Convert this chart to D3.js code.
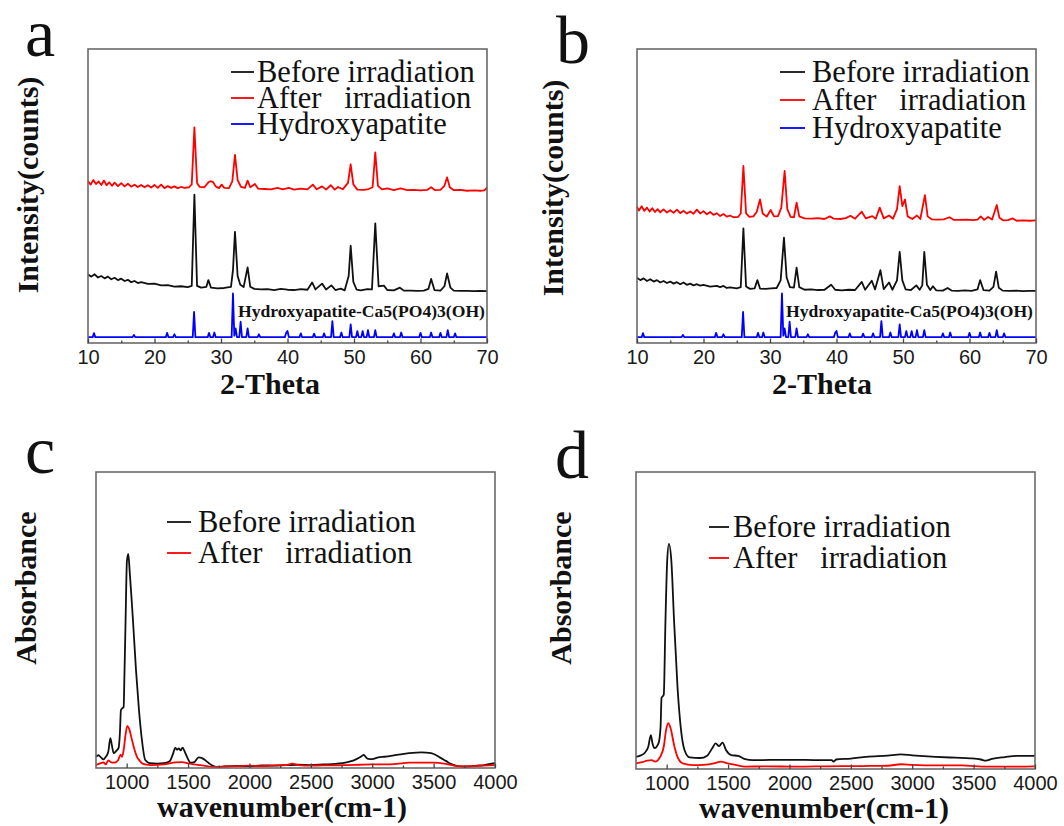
<!DOCTYPE html>
<html>
<head>
<meta charset="utf-8">
<script src="https://cdn.jsdelivr.net/npm/d3@7"></script>
<style>
  body { margin: 0; background: #fff; }
  svg text { white-space: pre; }
</style>
</head>
<body>
<div id="chart"></div>
<script>
var width = 1064;
var height = 826;

// XRD ticks (2-Theta)
var thetaTicks = [10, 20, 30, 40, 50, 60, 70];
var thetaMinor = [15, 25, 35, 45, 55, 65];
// FTIR ticks (wavenumber)
var waveTicks = [1000, 1500, 2000, 2500, 3000, 3500, 4000];
var waveMinor = [1250, 1750, 2250, 2750, 3250, 3750];

var xrdLegend = ["Before irradiation", "After   irradiation", "Hydroxyapatite"];
var ftirLegend = ["Before irradiation", "After   irradiation"];
var seriesColors = ["#111111", "#ff0000", "#0000ff"];
var refLabel = "Hydroxyapatite-Ca5(PO4)3(OH)";

// panel a, offset intensity (arbitrary units)
var xrdBeforeA = [[10,22.5],[10.5,21.8],[11,22.6],[11.5,21.5],[12,22.0],[12.5,21.2],[13,21.8],[13.5,20.9],[14,21.4],[14.5,20.6],[15,21.1],[15.5,20.3],[16,20.7],[16.5,19.9],[17,20.3],[17.5,19.6],[18,19.9],[19,19.3],[20,19.4],[21,18.8],[22,18.9],[23,18.4],[24,18.5],[25,18.2],[25.6,18.6],[26,50],[26.4,18.6],[27,18.0],[27.8,18.3],[28.1,20.6],[28.5,18.0],[29.5,17.8],[30.5,17.9],[31.5,18.3],[31.8,24],[32.1,37.2],[32.5,22],[32.9,19],[33.4,18.2],[34,25],[34.4,18.3],[35,17.6],[36,17.4],[37,17.5],[38,17.2],[39,17.6],[40,17.3],[41,17.2],[42,17.5],[43,17.3],[43.7,19.8],[44.2,17.4],[45.2,19.4],[45.8,17.4],[46.6,18.8],[47.2,17.2],[48,17.7],[48.6,17.1],[49.2,22],[49.5,32.4],[49.9,20],[50.4,17.3],[51,17.1],[52,17.5],[52.7,17.4],[53.2,40.1],[53.7,18.5],[54.5,18.7],[55,17.2],[56,17.1],[56.9,18],[57.5,17.0],[58.5,17.0],[59.5,16.9],[60.5,17.0],[61.2,17.6],[61.6,21],[62.1,17.2],[63,17.0],[63.6,18.5],[64,22.9],[64.5,18],[65,17.0],[66,16.9],[67,16.9],[68,16.8],[69,16.9],[70,16.8]];
var xrdAfterA = [[10,54.6],[10.4,53.4],[10.8,55.0],[11.2,53.6],[11.6,54.5],[12,53.3],[12.4,54.8],[12.8,53.2],[13.2,54.2],[13.6,53.0],[14,54.1],[14.5,52.9],[15,53.9],[15.5,52.8],[16,53.7],[16.5,52.7],[17,53.4],[17.5,52.6],[18,53.3],[18.5,52.5],[19,53.2],[19.5,52.4],[20,53.3],[20.5,52.3],[21,53.4],[21.5,52.2],[22,52.9],[22.5,52.3],[23,52.8],[23.5,52.2],[24,52.6],[24.5,52.3],[25.2,52.5],[25.6,53.5],[26,73.1],[26.4,54],[26.8,52.6],[27.5,52.5],[28.1,54.2],[28.4,54.6],[28.8,54.3],[29.2,52.8],[29.7,52.2],[30.1,53.4],[30.5,52.3],[31.2,52.2],[31.7,54.5],[32.1,63.6],[32.5,55],[33,52.6],[33.6,52.3],[34,54.8],[34.4,52.5],[35.1,53.6],[35.6,52.0],[36.5,51.9],[37.5,51.8],[38.5,52.3],[39.3,51.8],[40.2,52.3],[41,51.7],[42,52.0],[43,51.8],[43.8,53.4],[44.4,51.8],[45.2,52.8],[45.8,51.7],[46.5,53.2],[47.1,51.7],[47.6,52.6],[48.3,51.8],[49.1,54],[49.5,60.4],[49.9,53.5],[50.5,51.7],[51.5,51.6],[52.2,51.9],[52.8,52.5],[53.2,64.5],[53.6,53],[54.2,51.8],[55,52.1],[56,51.5],[57,52.1],[58,51.5],[59,51.6],[60,51.4],[61,51.6],[61.6,52.5],[62.2,51.5],[63,51.6],[63.6,53],[64,55.9],[64.4,52.5],[65,51.5],[66,51.6],[67,51.3],[68,51.4],[69,51.3],[69.6,51.4],[70,52.4]];

// panel b
var xrdBeforeB = [[10,21.4],[10.5,20.6],[11,21.2],[11.5,20.3],[12,20.9],[12.5,20.1],[13,20.6],[13.5,19.8],[14,20.3],[14.5,19.6],[15,20.1],[15.5,19.4],[16,19.9],[16.5,19.2],[17,19.8],[17.5,19.0],[18,19.4],[18.5,18.8],[19,19.2],[19.5,18.7],[20,19.0],[21,18.4],[22,18.6],[22.5,18.2],[23,18.6],[23.5,17.9],[24,18.1],[25,17.8],[25.6,18.2],[26,38.4],[26.4,18.4],[27,17.6],[27.7,17.8],[28.1,20.6],[28.5,17.7],[29.3,17.6],[30.2,17.8],[31,17.9],[31.6,20.5],[32.1,35.2],[32.5,21.5],[33,18.2],[33.6,18.0],[34,24.9],[34.4,18.2],[35.2,17.3],[36.2,17.4],[37.2,17.2],[38.2,17.3],[39.2,19.0],[39.8,17.3],[40.8,17.1],[41.8,17.3],[42.8,17.2],[43.8,20],[44.3,17.3],[45.3,20.4],[45.8,17.4],[46.6,24],[47.1,17.5],[47.9,19.8],[48.4,17.3],[49.1,20.5],[49.5,30.3],[49.9,20.5],[50.4,17.4],[51.2,17.2],[52,18.8],[52.5,17.3],[52.9,18.8],[53.2,30.3],[53.6,19],[54.1,17.2],[54.5,18.5],[55,17.1],[56,17.0],[56.7,17.9],[57.3,17.0],[58.3,16.9],[59.3,17.1],[60.3,16.9],[61.2,17.4],[61.6,20.6],[62.1,17.2],[63,17.0],[63.6,18.3],[64,23.5],[64.4,18],[65,17.0],[66,16.9],[67,17.0],[68,16.8],[69,16.9],[70,16.9]];
var xrdAfterB = [[10,45.8],[10.3,44.5],[10.7,46.0],[11.1,44.4],[11.5,45.5],[11.9,44.2],[12.3,45.3],[12.7,44.0],[13.1,45.0],[13.5,43.9],[14,44.9],[14.5,43.8],[15,44.6],[15.5,43.7],[16,44.8],[16.5,43.6],[17,44.4],[17.5,43.5],[18,44.2],[18.5,43.4],[19,44.8],[19.5,43.5],[20,44.3],[20.5,43.2],[21,44.0],[21.5,43.0],[22,43.6],[22.5,42.6],[23,43.3],[23.5,42.4],[24,42.8],[24.5,42.2],[25.2,42.3],[25.6,43.5],[26,59.8],[26.4,43.5],[26.9,42.3],[27.5,42.5],[28,44],[28.5,48.3],[28.9,43.5],[29.5,42.4],[30.1,44.7],[30.6,42.5],[31.2,42.6],[31.7,45.5],[32.2,58.1],[32.6,45],[33.1,42.3],[33.6,42.2],[34,47.2],[34.4,42.5],[35.2,41.8],[36.2,41.7],[37.2,41.9],[38.2,41.6],[39,42.5],[39.6,41.7],[40.6,41.6],[41.4,41.9],[42.1,42.7],[42.8,41.7],[43.8,44.1],[44.4,41.8],[45.4,42.6],[45.9,41.7],[46.5,45.5],[47.1,41.8],[47.9,42.8],[48.5,41.7],[49.1,45],[49.5,52.9],[49.9,46],[50.3,48.3],[50.7,42.5],[51.4,41.6],[52.1,42.8],[52.6,41.6],[53.3,49.8],[53.7,42.5],[54.3,41.5],[55.2,41.4],[56.1,41.5],[57,42.2],[57.6,41.3],[58.5,41.3],[59.5,41.4],[60.5,41.2],[61.2,41.4],[61.7,42.5],[62.2,41.3],[62.8,42.3],[63.4,41.4],[64.1,46.4],[64.5,42],[65.1,41.1],[65.8,41.2],[66.5,41.8],[67.1,41.0],[68,41.1],[69,41.0],[70,41.1]];

// reference pattern, same in a and b
var hapRef = [[10,1],[10.7,1],[10.9,2.4],[11.1,1],[16.7,1],[16.9,1.8],[17.1,1],[21.7,1],[21.9,2.5],[22.1,1],[22.8,1],[23.0,2.0],[23.2,1],[25.75,1],[25.95,9.7],[26.15,1],[28.0,1],[28.2,2.5],[28.4,1],[28.8,1],[29.0,2.6],[29.2,1],[31.6,1],[31.8,16.0],[32.0,1.5],[32.2,4],[32.4,1],[32.75,1],[32.95,6.3],[33.15,1],[33.8,1],[34.0,4.0],[34.2,1],[35.5,1],[35.7,2.0],[35.9,1],[39.6,1],[39.8,2.5],[40.0,3.1],[40.2,1],[41.8,1],[42.0,2.3],[42.2,1],[43.8,1],[44.0,2.2],[44.2,1],[45.3,1],[45.5,2.3],[45.7,1],[46.55,1],[46.75,6.5],[46.95,1],[47.9,1],[48.1,2.6],[48.3,1],[49.3,1],[49.5,5.4],[49.7,1],[50.3,1],[50.5,3.1],[50.7,1],[51.1,1],[51.3,3.1],[51.5,1],[51.9,1],[52.1,3.4],[52.3,1],[53.0,1],[53.2,3.4],[53.4,1],[55.8,1],[56.0,2.3],[56.2,1],[56.9,1],[57.1,2.6],[57.3,1],[59.8,1],[60.0,2.5],[60.2,1],[61.4,1],[61.6,2.6],[61.8,1],[62.8,1],[63.0,2.5],[63.2,1],[63.9,1],[64.1,3.4],[64.3,1],[65.0,1],[65.2,2.3],[65.4,1],[70,1]];

// panel c, absorbance (arbitrary units)
var ftirBeforeC = [[750,3.8],[770,4.3],[790,3.6],[810,2.9],[830,3.8],[850,5.5],[867,10.1],[880,7.5],[894,5.0],[915,5.8],[934,6.8],[945,12],[953,19.6],[965,20.2],[975,20.6],[982,32],[991,50],[1002,70],[1013,72.3],[1025,66],[1040,57],[1051,50],[1076,33],[1100,19.6],[1124,9.5],[1151,2.7],[1192,1.6],[1250,1.5],[1300,1.6],[1350,2.3],[1375,4.5],[1396,6.8],[1410,6.2],[1423,6.6],[1440,6.0],[1455,6.9],[1475,5.3],[1500,3.0],[1518,1.8],[1550,2.0],[1586,3.6],[1610,3.4],[1640,2.6],[1670,1.6],[1694,0.9],[1740,0.3],[1800,0.5],[1900,0.7],[2000,0.6],[2100,0.9],[2200,0.8],[2300,1.0],[2400,1.1],[2500,1.0],[2600,1.2],[2700,1.4],[2800,2.0],[2850,2.6],[2900,3.6],[2930,4.4],[2960,3.2],[3000,3.0],[3050,3.6],[3100,3.8],[3200,4.4],[3300,5.0],[3400,5.3],[3480,5.0],[3550,3.6],[3600,2.4],[3650,1.2],[3700,0.6],[3750,0.4],[3800,0.5],[3850,0.8],[3900,0.9],[3950,1.3],[4000,1.6]];
var ftirAfterC = [[750,1.0],[780,1.5],[810,1.9],[830,1.2],[850,2.6],[870,2.0],[900,1.8],[930,2.6],[950,4.5],[962,3.8],[975,6.0],[990,11],[1005,14.2],[1020,13.2],[1043,9.5],[1065,6.0],[1084,3.8],[1105,2.5],[1124,1.6],[1150,1.2],[1200,1.0],[1300,1.2],[1400,1.9],[1450,2.0],[1500,1.6],[1550,1.2],[1600,1.0],[1700,0.4],[1800,0.5],[1900,0.6],[2000,0.8],[2100,0.6],[2200,0.9],[2300,1.0],[2350,1.5],[2400,1.0],[2500,0.8],[2600,0.9],[2700,0.9],[2800,1.0],[2900,1.1],[3000,1.2],[3100,1.2],[3200,1.4],[3300,1.8],[3400,1.8],[3500,1.8],[3600,1.4],[3700,0.6],[3800,0.6],[3900,0.8],[4000,1.0]];

// panel d
var ftirBeforeD = [[750,4.1],[790,4.6],[820,5.4],[850,7.5],[871,11.4],[885,8.5],[900,7.0],[933,8.6],[950,14],[958,24],[968,24.5],[976,25],[990,50],[1004,70],[1018,75.8],[1038,70],[1060,50],[1088,27.7],[1117,13],[1145,6.4],[1187,3.9],[1272,3.7],[1330,4.5],[1371,7],[1399,8.6],[1427,7.7],[1455,8.9],[1483,6.4],[1526,4.7],[1582,4.4],[1639,3.3],[1700,3.0],[1780,3.0],[1900,3.1],[2062,3.1],[2200,3.0],[2344,3.0],[2358,2.5],[2380,3.2],[2500,3.5],[2626,4.1],[2800,4.5],[2908,4.9],[3000,4.6],[3190,4.1],[3350,3.8],[3472,3.6],[3560,3.2],[3599,2.8],[3650,3.4],[3754,4.0],[3850,4.4],[4000,4.4]];
var ftirAfterD = [[750,1.9],[800,2.3],[840,2.8],[877,3.0],[905,2.5],[947,4.1],[976,7.5],[995,13.1],[1012,15.4],[1032,13.7],[1060,8.1],[1088,4.1],[1131,1.9],[1215,1.3],[1300,1.4],[1385,1.9],[1441,2.5],[1497,1.9],[1560,1.4],[1639,0.8],[1800,0.9],[2062,0.8],[2300,0.9],[2600,1.0],[2800,1.1],[2908,1.6],[3000,1.4],[3200,1.2],[3400,1.2],[3613,0.8],[3800,0.8],[4000,0.9]];

var serif = "'Liberation Serif', 'Times New Roman', serif";
var sans = "'Liberation Sans', Arial, sans-serif";

var svg = d3.select("#chart").append("svg")
    .attr("width", width)
    .attr("height", height)
    .style("background", "#fff");

var panels = [
    {letter: "a", lx: 25, ly: 56, x0: 88, x1: 487, y0: 49, y1: 343,
     xDomain: [10, 70], yDomain: [-1, 100], ticks: thetaTicks, minor: thetaMinor,
     series: [xrdBeforeA, xrdAfterA, hapRef], legend: xrdLegend, curve: d3.curveLinear,
     legX: [231, 254, 257], legY: [72, 98, 124],
     ylabel: "Intensity(counts)", ylx: 38, yly: 185,
     xlabel: "2-Theta", xlx: 270, xly: 394, ref: [238, 317]},
    {letter: "b", lx: 556, ly: 63, x0: 637, x1: 1036, y0: 49, y1: 343,
     xDomain: [10, 70], yDomain: [-1, 100], ticks: thetaTicks, minor: thetaMinor,
     series: [xrdBeforeB, xrdAfterB, hapRef], legend: xrdLegend, curve: d3.curveLinear,
     legX: [780, 805, 812], legY: [72, 100, 128],
     ylabel: "Intensity(counts)", ylx: 563, yly: 188,
     xlabel: "2-Theta", xlx: 822, xly: 394, ref: [786, 317]},
    {letter: "c", lx: 25, ly: 473, x0: 96, x1: 495, y0: 472, y1: 768,
     xDomain: [750, 4000], yDomain: [0, 100], ticks: waveTicks, minor: waveMinor,
     series: [ftirBeforeC, ftirAfterC], legend: ftirLegend, curve: d3.curveMonotoneX,
     legX: [167, 191, 198], legY: [522, 553],
     ylabel: "Absorbance", ylx: 36, yly: 588,
     xlabel: "wavenumber(cm-1)", xlx: 282, xly: 817},
    {letter: "d", lx: 555, ly: 478, x0: 636, x1: 1035, y0: 472, y1: 769,
     xDomain: [750, 4000], yDomain: [0, 100], ticks: waveTicks, minor: waveMinor,
     series: [ftirBeforeD, ftirAfterD], legend: ftirLegend, curve: d3.curveMonotoneX,
     legX: [709, 729, 733], legY: [527, 558],
     ylabel: "Absorbance", ylx: 571, yly: 588,
     xlabel: "wavenumber(cm-1)", xlx: 824, xly: 818}
];

panels.forEach(function(p){

    var x = d3.scaleLinear().domain(p.xDomain).range([p.x0, p.x1]);
    var y = d3.scaleLinear().domain(p.yDomain).range([p.y1, p.y0]);

    var line = d3.line()
        .x(function(d){ return x(d[0]); })
        .y(function(d){ return y(d[1]); })
        .curve(p.curve);

    var g = svg.append("g");

    g.selectAll("path.trace")
        .data(p.series)
      .enter()
        .append("path")
            .attr("class", "trace")
            .attr("d", line)
            .attr("fill", "none")
            .attr("stroke", function(d, i){ return seriesColors[i]; })
            .attr("stroke-width", 1.8)
            .attr("stroke-linejoin", "round");

    // frame
    g.append("rect")
        .attr("x", p.x0)
        .attr("y", p.y0)
        .attr("width", p.x1 - p.x0)
        .attr("height", p.y1 - p.y0)
        .attr("fill", "none")
        .attr("stroke", "#6a6a6a")
        .attr("stroke-width", 1.6);

    var axis = g.append("g")
        .attr("transform", "translate(0," + p.y1 + ")")
        .call(d3.axisBottom(x).tickValues(p.ticks).tickSize(-4.5).tickPadding(7)
            .tickFormat(d3.format("d")));
    axis.select(".domain").remove();
    axis.selectAll("line").attr("stroke", "#444").attr("stroke-width", 1.3);
    axis.selectAll("text")
        .attr("fill", "#1a1a1a")
        .style("font-family", sans)
        .style("font-size", "20px");

    var minorAxis = g.append("g")
        .attr("transform", "translate(0," + p.y1 + ")")
        .call(d3.axisBottom(x).tickValues(p.minor).tickSize(-2.5).tickFormat(""));
    minorAxis.select(".domain").remove();
    minorAxis.selectAll("line").attr("stroke", "#444").attr("stroke-width", 1.3);

    // legend
    var leg = g.selectAll("g.legend")
        .data(p.legend)
      .enter()
        .append("g")
            .attr("class", "legend");
    leg.append("line")
        .attr("x1", p.legX[0])
        .attr("x2", p.legX[1])
        .attr("y1", function(d, i){ return p.legY[i]; })
        .attr("y2", function(d, i){ return p.legY[i]; })
        .attr("stroke", function(d, i){ return seriesColors[i]; })
        .attr("stroke-width", 1.8);
    leg.append("text")
        .attr("x", p.legX[2])
        .attr("y", function(d, i){ return p.legY[i] + 10; })
        .attr("xml:space", "preserve")
        .style("font-family", serif)
        .style("font-size", "30.5px")
        .attr("fill", "#111")
        .text(function(d){ return d; });

    if(p.ref){
        g.append("text")
            .attr("x", p.ref[0])
            .attr("y", p.ref[1])
            .style("font-family", serif)
            .style("font-weight", "bold")
            .style("font-size", "17.6px")
            .attr("fill", "#111")
            .text(refLabel);
    }

    g.append("text")
        .attr("x", p.xlx)
        .attr("y", p.xly)
        .attr("text-anchor", "middle")
        .style("font-family", serif)
        .style("font-weight", "bold")
        .style("font-size", "30px")
        .attr("fill", "#111")
        .text(p.xlabel);

    g.append("text")
        .attr("transform", "translate(" + p.ylx + "," + p.yly + ") rotate(-90)")
        .attr("text-anchor", "middle")
        .style("font-family", serif)
        .style("font-weight", "bold")
        .style("font-size", "30px")
        .attr("fill", "#111")
        .text(p.ylabel);

    g.append("text")
        .attr("x", p.lx)
        .attr("y", p.ly)
        .style("font-family", serif)
        .style("font-size", "68px")
        .attr("fill", "#111")
        .text(p.letter);
});
</script>
</body>
</html>
